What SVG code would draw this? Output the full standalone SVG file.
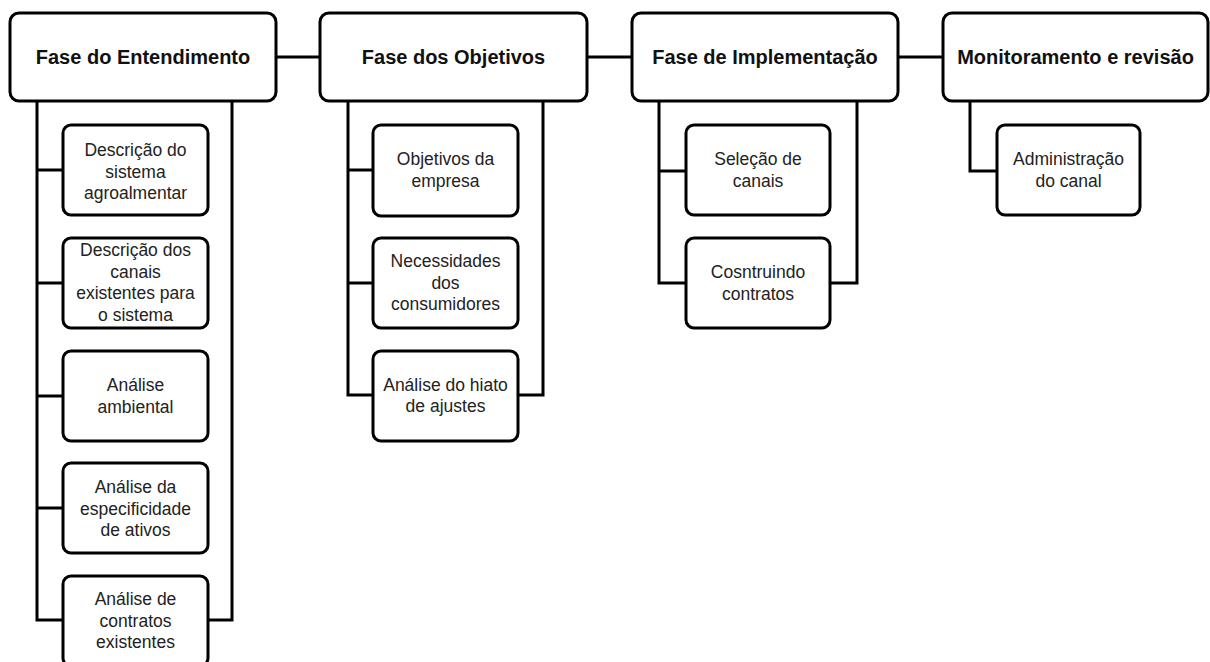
<svg xmlns="http://www.w3.org/2000/svg" width="1210" height="662" viewBox="0 0 1210 662">
<style>
.hdr{fill:#fff;stroke:#000;stroke-width:3}
.box{fill:#fff;stroke:#000;stroke-width:3}
.ln{fill:none;stroke:#000;stroke-width:3}
.ht{font-family:"Liberation Sans",Arial,sans-serif;font-weight:bold;font-size:20px;fill:#111;text-anchor:middle}
.ct{font-family:"Liberation Sans",Arial,sans-serif;font-size:17.5px;fill:#222;text-anchor:middle}
</style>
<rect width="1210" height="662" fill="#fff"/>
<g id="connectors">
<line class="ln" x1="276" y1="57" x2="320" y2="57"/>
<line class="ln" x1="587" y1="57" x2="632" y2="57"/>
<line class="ln" x1="898" y1="57" x2="943" y2="57"/>
<path class="ln" d="M37 101 V620 H63 M37 170 H63 M37 283 H63 M37 396 H63 M37 508 H63"/>
<path class="ln" d="M232 101 V620 H208"/>
<path class="ln" d="M348 101 V395 H373 M348 170 H373 M348 283 H373"/>
<path class="ln" d="M543 101 V395 H518"/>
<path class="ln" d="M659 101 V283 H686 M659 171 H686"/>
<path class="ln" d="M857 101 V283 H830"/>
<path class="ln" d="M970 101 V171 H997"/>
</g>
<g id="h1"><rect class="hdr" x="10" y="13" width="266" height="88" rx="9"/><text class="ht" x="143" y="64">Fase do Entendimento</text></g>
<g id="h2"><rect class="hdr" x="320" y="13" width="267" height="88" rx="9"/><text class="ht" x="453.5" y="64">Fase dos Objetivos</text></g>
<g id="h3"><rect class="hdr" x="632" y="13" width="266" height="88" rx="9"/><text class="ht" x="765" y="64">Fase de Implementação</text></g>
<g id="h4"><rect class="hdr" x="943" y="13" width="265" height="88" rx="9"/><text class="ht" x="1075.5" y="64">Monitoramento e revisão</text></g>

<g id="c1a"><rect class="box" x="63" y="125" width="145" height="90" rx="8"/><text class="ct"><tspan x="135.5" y="156">Descrição do</tspan><tspan x="135.5" y="177.5">sistema</tspan><tspan x="135.5" y="199">agroalmentar</tspan></text></g>
<g id="c1b"><rect class="box" x="63" y="238" width="145" height="90" rx="8"/><text class="ct"><tspan x="135.5" y="256">Descrição dos</tspan><tspan x="135.5" y="277.5">canais</tspan><tspan x="135.5" y="299">existentes para</tspan><tspan x="135.5" y="320.5">o sistema</tspan></text></g>
<g id="c1c"><rect class="box" x="63" y="351" width="145" height="90" rx="8"/><text class="ct"><tspan x="135.5" y="391">Análise</tspan><tspan x="135.5" y="412.5">ambiental</tspan></text></g>
<g id="c1d"><rect class="box" x="63" y="463" width="145" height="90" rx="8"/><text class="ct"><tspan x="135.5" y="493">Análise da</tspan><tspan x="135.5" y="514.5">especificidade</tspan><tspan x="135.5" y="536">de ativos</tspan></text></g>
<g id="c1e"><rect class="box" x="63" y="576" width="145" height="90" rx="8"/><text class="ct"><tspan x="135.5" y="605">Análise de</tspan><tspan x="135.5" y="626.5">contratos</tspan><tspan x="135.5" y="648">existentes</tspan></text></g>

<g id="c2a"><rect class="box" x="373" y="125" width="145" height="91" rx="8"/><text class="ct"><tspan x="445.5" y="165">Objetivos da</tspan><tspan x="445.5" y="186.5">empresa</tspan></text></g>
<g id="c2b"><rect class="box" x="373" y="238" width="145" height="90" rx="8"/><text class="ct"><tspan x="445.5" y="267">Necessidades</tspan><tspan x="445.5" y="288.5">dos</tspan><tspan x="445.5" y="310">consumidores</tspan></text></g>
<g id="c2c"><rect class="box" x="373" y="351" width="145" height="90" rx="8"/><text class="ct"><tspan x="445.5" y="391">Análise do hiato</tspan><tspan x="445.5" y="412">de ajustes</tspan></text></g>

<g id="c3a"><rect class="box" x="686" y="125" width="144" height="90" rx="8"/><text class="ct"><tspan x="758" y="165">Seleção de</tspan><tspan x="758" y="186.5">canais</tspan></text></g>
<g id="c3b"><rect class="box" x="686" y="238" width="144" height="90" rx="8"/><text class="ct"><tspan x="758" y="278">Cosntruindo</tspan><tspan x="758" y="299.5">contratos</tspan></text></g>

<g id="c4a"><rect class="box" x="997" y="125" width="143" height="90" rx="8"/><text class="ct"><tspan x="1068.5" y="165">Administração</tspan><tspan x="1068.5" y="186.5">do canal</tspan></text></g>
</svg>
